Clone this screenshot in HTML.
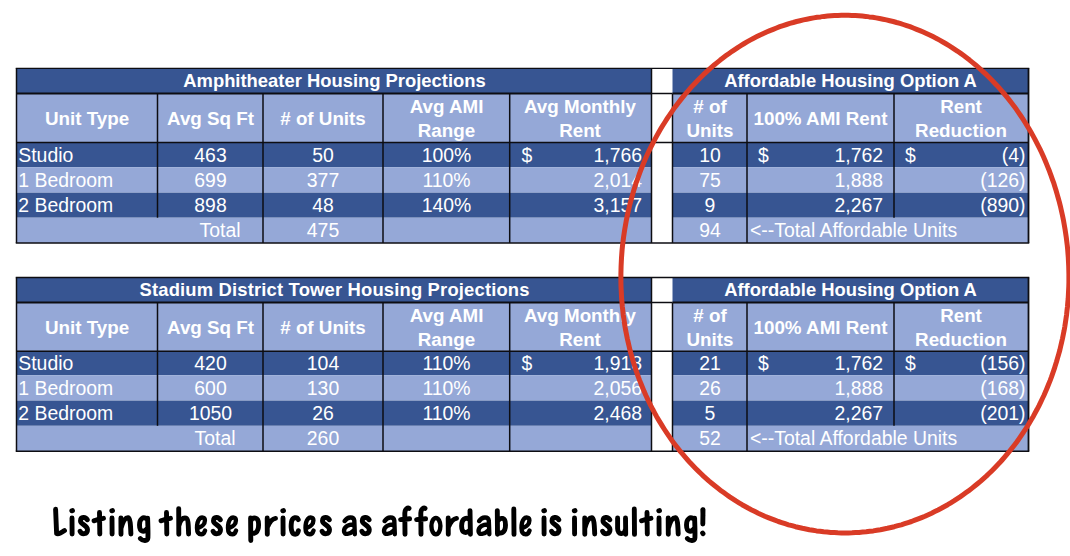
<!DOCTYPE html>
<html><head><meta charset="utf-8"><style>
html,body{margin:0;padding:0;background:#fff;width:1070px;height:556px;overflow:hidden}
svg{display:block}
text{font-family:"Liberation Sans",sans-serif;fill:#fff}
</style></head><body>
<svg width="1070" height="556" viewBox="0 0 1070 556">
<rect x="16.5" y="68.3" width="1012.0" height="25.200000000000003" fill="#375592"/>
<rect x="16.5" y="93.5" width="1012.0" height="48.69999999999999" fill="#95A8D7"/>
<rect x="16.5" y="142.2" width="1012.0" height="25.0" fill="#375592"/>
<rect x="16.5" y="167.2" width="1012.0" height="25.5" fill="#95A8D7"/>
<rect x="16.5" y="192.7" width="1012.0" height="25.0" fill="#375592"/>
<rect x="16.5" y="217.7" width="1012.0" height="25.19999999999999" fill="#95A8D7"/>
<rect x="651.5" y="68.3" width="21.0" height="174.59999999999997" fill="#fff"/>
<line x1="15.75" y1="68.3" x2="1029.25" y2="68.3" stroke="#0d0d12" stroke-width="1.3"/>
<line x1="16.5" y1="93.5" x2="651.5" y2="93.5" stroke="#0d0d12" stroke-width="2"/>
<line x1="672.5" y1="93.5" x2="1028.5" y2="93.5" stroke="#0d0d12" stroke-width="2"/>
<line x1="651.5" y1="93.5" x2="672.5" y2="93.5" stroke="#0d0d12" stroke-width="1.5"/>
<line x1="16.5" y1="142.6" x2="1028.5" y2="142.6" stroke="#0d0d12" stroke-width="1.5"/>
<line x1="15.75" y1="242.89999999999998" x2="1029.25" y2="242.89999999999998" stroke="#0d0d12" stroke-width="1.5"/>
<line x1="16.5" y1="68.3" x2="16.5" y2="242.89999999999998" stroke="#0d0d12" stroke-width="1.5"/>
<line x1="1028.5" y1="68.3" x2="1028.5" y2="242.89999999999998" stroke="#0d0d12" stroke-width="1.8"/>
<line x1="651.5" y1="68.3" x2="651.5" y2="242.89999999999998" stroke="#0d0d12" stroke-width="1.5"/>
<line x1="672.5" y1="93.5" x2="672.5" y2="242.89999999999998" stroke="#0d0d12" stroke-width="1.5"/>
<line x1="157.5" y1="93.5" x2="157.5" y2="217.7" stroke="#0d0d12" stroke-width="1.5"/>
<line x1="263" y1="93.5" x2="263" y2="242.89999999999998" stroke="#0d0d12" stroke-width="1.5"/>
<line x1="383" y1="93.5" x2="383" y2="242.89999999999998" stroke="#0d0d12" stroke-width="1.5"/>
<line x1="509.7" y1="93.5" x2="509.7" y2="242.89999999999998" stroke="#0d0d12" stroke-width="1.5"/>
<line x1="747" y1="93.5" x2="747" y2="242.89999999999998" stroke="#0d0d12" stroke-width="1.5"/>
<line x1="894" y1="93.5" x2="894" y2="217.7" stroke="#0d0d12" stroke-width="1.5"/>
<text x="334.5" y="87.19999999999999" text-anchor="middle" font-weight="bold" font-size="18.4">Amphitheater Housing Projections</text>
<text x="850.5" y="87.19999999999999" text-anchor="middle" font-weight="bold" font-size="18.4">Affordable Housing Option A</text>
<text x="87" y="125.19999999999999" text-anchor="middle" font-weight="bold" font-size="18.8">Unit Type</text>
<text x="210.5" y="125.19999999999999" text-anchor="middle" font-weight="bold" font-size="18.8">Avg Sq Ft</text>
<text x="323" y="125.19999999999999" text-anchor="middle" font-weight="bold" font-size="18.8"># of Units</text>
<text x="446.5" y="113.19999999999999" text-anchor="middle" font-weight="bold" font-size="18.8">Avg AMI</text>
<text x="446.5" y="137.2" text-anchor="middle" font-weight="bold" font-size="18.8">Range</text>
<text x="580" y="113.19999999999999" text-anchor="middle" font-weight="bold" font-size="18.8">Avg Monthly</text>
<text x="580" y="137.2" text-anchor="middle" font-weight="bold" font-size="18.8">Rent</text>
<text x="710" y="113.19999999999999" text-anchor="middle" font-weight="bold" font-size="18.8"># of</text>
<text x="710" y="137.2" text-anchor="middle" font-weight="bold" font-size="18.8">Units</text>
<text x="820.5" y="125.19999999999999" text-anchor="middle" font-weight="bold" font-size="18.8">100% AMI Rent</text>
<text x="961" y="113.19999999999999" text-anchor="middle" font-weight="bold" font-size="18.8">Rent</text>
<text x="961" y="137.2" text-anchor="middle" font-weight="bold" font-size="18.8">Reduction</text>
<text x="18.3" y="161.7" text-anchor="start" font-weight="normal" font-size="19.4">Studio</text>
<text x="210.5" y="161.7" text-anchor="middle" font-weight="normal" font-size="19.4">463</text>
<text x="323" y="161.7" text-anchor="middle" font-weight="normal" font-size="19.4">50</text>
<text x="446.5" y="161.7" text-anchor="middle" font-weight="normal" font-size="19.4">100%</text>
<text x="521.5" y="161.7" text-anchor="start" font-weight="normal" font-size="19.4">$</text>
<text x="642" y="161.7" text-anchor="end" font-weight="normal" font-size="19.4">1,766</text>
<text x="18.3" y="186.7" text-anchor="start" font-weight="normal" font-size="19.4">1 Bedroom</text>
<text x="210.5" y="186.7" text-anchor="middle" font-weight="normal" font-size="19.4">699</text>
<text x="323" y="186.7" text-anchor="middle" font-weight="normal" font-size="19.4">377</text>
<text x="446.5" y="186.7" text-anchor="middle" font-weight="normal" font-size="19.4">110%</text>
<text x="642" y="186.7" text-anchor="end" font-weight="normal" font-size="19.4">2,014</text>
<text x="18.3" y="212.2" text-anchor="start" font-weight="normal" font-size="19.4">2 Bedroom</text>
<text x="210.5" y="212.2" text-anchor="middle" font-weight="normal" font-size="19.4">898</text>
<text x="323" y="212.2" text-anchor="middle" font-weight="normal" font-size="19.4">48</text>
<text x="446.5" y="212.2" text-anchor="middle" font-weight="normal" font-size="19.4">140%</text>
<text x="642" y="212.2" text-anchor="end" font-weight="normal" font-size="19.4">3,157</text>
<text x="710" y="161.7" text-anchor="middle" font-weight="normal" font-size="19.4">10</text>
<text x="758" y="161.7" text-anchor="start" font-weight="normal" font-size="19.4">$</text>
<text x="905" y="161.7" text-anchor="start" font-weight="normal" font-size="19.4">$</text>
<text x="883" y="161.7" text-anchor="end" font-weight="normal" font-size="19.4">1,762</text>
<text x="1025.5" y="161.7" text-anchor="end" font-weight="normal" font-size="19.4">(4)</text>
<text x="710" y="186.7" text-anchor="middle" font-weight="normal" font-size="19.4">75</text>
<text x="883" y="186.7" text-anchor="end" font-weight="normal" font-size="19.4">1,888</text>
<text x="1025.5" y="186.7" text-anchor="end" font-weight="normal" font-size="19.4">(126)</text>
<text x="710" y="212.2" text-anchor="middle" font-weight="normal" font-size="19.4">9</text>
<text x="883" y="212.2" text-anchor="end" font-weight="normal" font-size="19.4">2,267</text>
<text x="1025.5" y="212.2" text-anchor="end" font-weight="normal" font-size="19.4">(890)</text>
<text x="240.5" y="237.2" text-anchor="end" font-weight="normal" font-size="19.4">Total</text>
<text x="323" y="237.2" text-anchor="middle" font-weight="normal" font-size="19.4">475</text>
<text x="710" y="237.2" text-anchor="middle" font-weight="normal" font-size="19.4">94</text>
<text x="750" y="237.2" text-anchor="start" font-weight="normal" font-size="19.4">&lt;--Total Affordable Units</text>
<rect x="16.5" y="277.5" width="1012.0" height="25.0" fill="#375592"/>
<rect x="16.5" y="302.5" width="1012.0" height="48.30000000000001" fill="#95A8D7"/>
<rect x="16.5" y="350.8" width="1012.0" height="24.399999999999977" fill="#375592"/>
<rect x="16.5" y="375.2" width="1012.0" height="25.400000000000034" fill="#95A8D7"/>
<rect x="16.5" y="400.6" width="1012.0" height="25.19999999999999" fill="#375592"/>
<rect x="16.5" y="425.8" width="1012.0" height="25.5" fill="#95A8D7"/>
<rect x="651.5" y="277.5" width="21.0" height="173.8" fill="#fff"/>
<line x1="15.75" y1="277.5" x2="1029.25" y2="277.5" stroke="#0d0d12" stroke-width="1.3"/>
<line x1="16.5" y1="302.5" x2="651.5" y2="302.5" stroke="#0d0d12" stroke-width="2"/>
<line x1="672.5" y1="302.5" x2="1028.5" y2="302.5" stroke="#0d0d12" stroke-width="2"/>
<line x1="651.5" y1="302.5" x2="672.5" y2="302.5" stroke="#0d0d12" stroke-width="1.5"/>
<line x1="16.5" y1="351.2" x2="1028.5" y2="351.2" stroke="#0d0d12" stroke-width="1.5"/>
<line x1="15.75" y1="451.3" x2="1029.25" y2="451.3" stroke="#0d0d12" stroke-width="1.5"/>
<line x1="16.5" y1="277.5" x2="16.5" y2="451.3" stroke="#0d0d12" stroke-width="1.5"/>
<line x1="1028.5" y1="277.5" x2="1028.5" y2="451.3" stroke="#0d0d12" stroke-width="1.8"/>
<line x1="651.5" y1="277.5" x2="651.5" y2="451.3" stroke="#0d0d12" stroke-width="1.5"/>
<line x1="672.5" y1="302.5" x2="672.5" y2="451.3" stroke="#0d0d12" stroke-width="1.5"/>
<line x1="157.5" y1="302.5" x2="157.5" y2="425.8" stroke="#0d0d12" stroke-width="1.5"/>
<line x1="263" y1="302.5" x2="263" y2="451.3" stroke="#0d0d12" stroke-width="1.5"/>
<line x1="383" y1="302.5" x2="383" y2="451.3" stroke="#0d0d12" stroke-width="1.5"/>
<line x1="509.7" y1="302.5" x2="509.7" y2="451.3" stroke="#0d0d12" stroke-width="1.5"/>
<line x1="747" y1="302.5" x2="747" y2="451.3" stroke="#0d0d12" stroke-width="1.5"/>
<line x1="894" y1="302.5" x2="894" y2="425.8" stroke="#0d0d12" stroke-width="1.5"/>
<text x="334.5" y="296.4" text-anchor="middle" font-weight="bold" font-size="18.4" textLength="390" lengthAdjust="spacing">Stadium District Tower Housing Projections</text>
<text x="850.5" y="296.4" text-anchor="middle" font-weight="bold" font-size="18.4">Affordable Housing Option A</text>
<text x="87" y="333.8" text-anchor="middle" font-weight="bold" font-size="18.8">Unit Type</text>
<text x="210.5" y="333.8" text-anchor="middle" font-weight="bold" font-size="18.8">Avg Sq Ft</text>
<text x="323" y="333.8" text-anchor="middle" font-weight="bold" font-size="18.8"># of Units</text>
<text x="446.5" y="321.8" text-anchor="middle" font-weight="bold" font-size="18.8">Avg AMI</text>
<text x="446.5" y="345.8" text-anchor="middle" font-weight="bold" font-size="18.8">Range</text>
<text x="580" y="321.8" text-anchor="middle" font-weight="bold" font-size="18.8">Avg Monthly</text>
<text x="580" y="345.8" text-anchor="middle" font-weight="bold" font-size="18.8">Rent</text>
<text x="710" y="321.8" text-anchor="middle" font-weight="bold" font-size="18.8"># of</text>
<text x="710" y="345.8" text-anchor="middle" font-weight="bold" font-size="18.8">Units</text>
<text x="820.5" y="333.8" text-anchor="middle" font-weight="bold" font-size="18.8">100% AMI Rent</text>
<text x="961" y="321.8" text-anchor="middle" font-weight="bold" font-size="18.8">Rent</text>
<text x="961" y="345.8" text-anchor="middle" font-weight="bold" font-size="18.8">Reduction</text>
<text x="18.3" y="370.3" text-anchor="start" font-weight="normal" font-size="19.4">Studio</text>
<text x="210.5" y="370.3" text-anchor="middle" font-weight="normal" font-size="19.4">420</text>
<text x="323" y="370.3" text-anchor="middle" font-weight="normal" font-size="19.4">104</text>
<text x="446.5" y="370.3" text-anchor="middle" font-weight="normal" font-size="19.4">110%</text>
<text x="521.5" y="370.3" text-anchor="start" font-weight="normal" font-size="19.4">$</text>
<text x="642" y="370.3" text-anchor="end" font-weight="normal" font-size="19.4">1,918</text>
<text x="18.3" y="394.7" text-anchor="start" font-weight="normal" font-size="19.4">1 Bedroom</text>
<text x="210.5" y="394.7" text-anchor="middle" font-weight="normal" font-size="19.4">600</text>
<text x="323" y="394.7" text-anchor="middle" font-weight="normal" font-size="19.4">130</text>
<text x="446.5" y="394.7" text-anchor="middle" font-weight="normal" font-size="19.4">110%</text>
<text x="642" y="394.7" text-anchor="end" font-weight="normal" font-size="19.4">2,056</text>
<text x="18.3" y="420.1" text-anchor="start" font-weight="normal" font-size="19.4">2 Bedroom</text>
<text x="210.5" y="420.1" text-anchor="middle" font-weight="normal" font-size="19.4">1050</text>
<text x="323" y="420.1" text-anchor="middle" font-weight="normal" font-size="19.4">26</text>
<text x="446.5" y="420.1" text-anchor="middle" font-weight="normal" font-size="19.4">110%</text>
<text x="642" y="420.1" text-anchor="end" font-weight="normal" font-size="19.4">2,468</text>
<text x="710" y="370.3" text-anchor="middle" font-weight="normal" font-size="19.4">21</text>
<text x="758" y="370.3" text-anchor="start" font-weight="normal" font-size="19.4">$</text>
<text x="905" y="370.3" text-anchor="start" font-weight="normal" font-size="19.4">$</text>
<text x="883" y="370.3" text-anchor="end" font-weight="normal" font-size="19.4">1,762</text>
<text x="1025.5" y="370.3" text-anchor="end" font-weight="normal" font-size="19.4">(156)</text>
<text x="710" y="394.7" text-anchor="middle" font-weight="normal" font-size="19.4">26</text>
<text x="883" y="394.7" text-anchor="end" font-weight="normal" font-size="19.4">1,888</text>
<text x="1025.5" y="394.7" text-anchor="end" font-weight="normal" font-size="19.4">(168)</text>
<text x="710" y="420.1" text-anchor="middle" font-weight="normal" font-size="19.4">5</text>
<text x="883" y="420.1" text-anchor="end" font-weight="normal" font-size="19.4">2,267</text>
<text x="1025.5" y="420.1" text-anchor="end" font-weight="normal" font-size="19.4">(201)</text>
<text x="235.5" y="445.3" text-anchor="end" font-weight="normal" font-size="19.4">Total</text>
<text x="323" y="445.3" text-anchor="middle" font-weight="normal" font-size="19.4">260</text>
<text x="710" y="445.3" text-anchor="middle" font-weight="normal" font-size="19.4">52</text>
<text x="750" y="445.3" text-anchor="start" font-weight="normal" font-size="19.4">&lt;--Total Affordable Units</text>
<path d="M 55.6,509.3 L 56.6,533.4 C 58,534.8 61.5,532.8 64.5,530.6 M 72.00,518 L 72.10,534 M 71.80,510.8 L 72.50,510.6 M 87.30,519.8 C 85.50,516.6 80.70,516.6 80.50,520.8 C 80.30,524.5 87.50,524.8 87.50,529.8 C 87.50,534.5 81.70,535 80.10,531.2 M 99.50,512.5 L 99.80,534 M 94.10,520.8 C 96.50,519.6 99.50,519 103.50,518.3 M 112.00,518 L 112.10,534 M 111.80,510.8 L 112.50,510.6 M 120.90,518 L 121.00,534.2 M 121.00,528.5 C 122.70,522 125.20,517.5 128.20,517.8 C 130.40,518 130.60,527 130.90,534 M 147.60,518.2 C 147.90,526 148.10,534 147.90,538 C 147.70,541.3 143.00,541.3 140.40,538.6 M 147.50,519.5 C 143.00,515.8 139.50,519 139.50,525 C 139.50,532.6 144.50,532.6 147.70,528 M 166.50,512.5 L 166.80,534 M 161.10,520.8 C 163.50,519.6 166.50,519 170.50,518.3 M 178.70,508.6 L 178.80,534.2 M 178.80,526 C 180.00,520 183.00,517.5 186.00,518.2 C 188.50,519 188.30,527 188.60,534 M 220.30,519.8 C 218.50,516.6 213.70,516.6 213.50,520.8 C 213.30,524.5 220.50,524.8 220.50,529.8 C 220.50,534.5 214.70,535 213.10,531.2 M 250.60,518 L 250.80,540.6 M 250.80,520.8 C 252.80,517 258.60,516.3 258.60,524.5 C 258.60,532.6 254.30,534.6 251.00,532.4 M 267.20,518 L 267.30,534.2 M 267.70,526.5 C 269.50,522.5 272.50,518.8 275.50,518.4 M 283.00,518 L 283.10,534 M 282.80,510.8 L 283.50,510.6 M 298.30,519.6 C 297.10,516.8 292.50,516.8 291.50,521.8 C 290.70,527 291.10,534.2 295.10,534.2 C 297.10,534.2 298.10,532.5 298.40,530.6 M 329.30,519.8 C 327.50,516.6 322.70,516.6 322.50,520.8 C 322.30,524.5 329.50,524.8 329.50,529.8 C 329.50,534.5 323.70,535 322.10,531.2 M 369.10,519.8 C 367.30,516.6 362.50,516.6 362.30,520.8 C 362.10,524.5 369.30,524.8 369.30,529.8 C 369.30,534.5 363.50,535 361.90,531.2 M 405.00,534.3 L 404.80,513 C 405.00,508.3 408.00,507.6 409.00,508.3 M 400.60,519.6 C 404.00,519.3 407.00,519 409.60,518.8 M 421.00,534.3 L 420.80,513 C 421.00,508.3 424.00,507.6 425.00,508.3 M 416.60,519.6 C 420.00,519.3 423.00,519 425.60,518.8 M 448.20,518 L 448.30,534.2 M 448.70,526.5 C 450.50,522.5 453.50,518.8 456.50,518.4 M 470.00,510.6 L 470.40,534.2 M 470.00,519.8 C 465.00,516 461.60,520 461.60,526 C 461.60,533.2 466.20,534.2 470.20,530 M 497.30,510.6 L 497.50,534.2 M 497.50,521.5 C 500.50,517 505.50,516.8 505.50,525 C 505.50,533.2 500.50,534.2 497.70,532 M 513.80,509 L 514.00,534.4 M 544.00,518 L 544.10,534 M 543.80,510.8 L 544.50,510.6 M 558.80,519.8 C 557.00,516.6 552.20,516.6 552.00,520.8 C 551.80,524.5 559.00,524.8 559.00,529.8 C 559.00,534.5 553.20,535 551.60,531.2 M 574.50,518 L 574.60,534 M 574.30,510.8 L 575.00,510.6 M 584.70,518 L 584.80,534.2 M 584.80,528.5 C 586.50,522 589.00,517.5 592.00,517.8 C 594.20,518 594.40,527 594.70,534 M 609.80,519.8 C 608.00,516.6 603.20,516.6 603.00,520.8 C 602.80,524.5 610.00,524.8 610.00,529.8 C 610.00,534.5 604.20,535 602.60,531.2 M 617.60,518 L 617.60,528.5 C 617.60,535 624.50,535.5 625.50,529 M 625.50,518 L 625.70,534.2 M 634.30,509 L 634.50,534.4 M 647.00,512.5 L 647.30,534 M 641.60,520.8 C 644.00,519.6 647.00,519 651.00,518.3 M 659.00,518 L 659.10,534 M 658.80,510.8 L 659.50,510.6 M 668.20,518 L 668.30,534.2 M 668.30,528.5 C 670.00,522 672.50,517.5 675.50,517.8 C 677.70,518 677.90,527 678.20,534 M 694.60,518.2 C 694.90,526 695.10,534 694.90,538 C 694.70,541.3 690.00,541.3 687.40,538.6 M 694.50,519.5 C 690.00,515.8 686.50,519 686.50,525 C 686.50,532.6 691.50,532.6 694.70,528 M 703,509.6 L 702.8,524 M 702.8,509.6 L 703,516 M 702.6,533 L 703,533.6" fill="none" stroke="#000" stroke-width="4.9" stroke-linecap="round" stroke-linejoin="round"/><path d="M 198.80,527.8 C 202.10,526.6 204.90,523.6 204.90,520.4 C 204.90,517 201.10,516.9 199.40,518.9 C 197.40,521.2 197.00,524.8 197.00,528 C 197.00,533.3 199.30,534.3 201.30,534.3 C 203.10,534.3 204.40,532.6 205.00,530.6 M 229.80,527.8 C 233.10,526.6 235.90,523.6 235.90,520.4 C 235.90,517 232.10,516.9 230.40,518.9 C 228.40,521.2 228.00,524.8 228.00,528 C 228.00,533.3 230.30,534.3 232.30,534.3 C 234.10,534.3 235.40,532.6 236.00,530.6 M 307.30,527.8 C 310.60,526.6 313.40,523.6 313.40,520.4 C 313.40,517 309.60,516.9 307.90,518.9 C 305.90,521.2 305.50,524.8 305.50,528 C 305.50,533.3 307.80,534.3 309.80,534.3 C 311.60,534.3 312.90,532.6 313.50,530.6 M 344.70,521 C 347.50,516.4 353.70,516.4 354.30,520.5 L 354.80,534.2 M 354.30,524.5 C 349.00,524 344.00,526.5 344.00,531 C 344.00,535.5 350.00,534.5 354.30,530 M 384.70,521 C 387.50,516.4 393.70,516.4 394.30,520.5 L 394.80,534.2 M 394.30,524.5 C 389.00,524 384.00,526.5 384.00,531 C 384.00,535.5 390.00,534.5 394.30,530 M 435.90,518 A 4.5 8.1 0 1 0 435.90,534.2 A 4.5 8.1 0 1 0 435.90,518 Z M 479.20,521 C 482.00,516.4 488.20,516.4 488.80,520.5 L 489.30,534.2 M 488.80,524.5 C 483.50,524 478.50,526.5 478.50,531 C 478.50,535.5 484.50,534.5 488.80,530 M 523.30,527.8 C 526.60,526.6 529.40,523.6 529.40,520.4 C 529.40,517 525.60,516.9 523.90,518.9 C 521.90,521.2 521.50,524.8 521.50,528 C 521.50,533.3 523.80,534.3 525.80,534.3 C 527.60,534.3 528.90,532.6 529.50,530.6" fill="none" stroke="#000" stroke-width="4.4" stroke-linecap="round" stroke-linejoin="round"/>
<path d="M1068.9,274.1 L1068.9,278.2 L1068.9,282.2 L1068.8,286.3 L1068.6,290.4 L1068.4,294.4 L1068.2,298.5 L1067.8,302.5 L1067.5,306.5 L1067.0,310.6 L1066.6,314.6 L1066.0,318.6 L1065.4,322.6 L1064.8,326.6 L1064.1,330.6 L1063.3,334.5 L1062.5,338.5 L1061.6,342.4 L1060.7,346.3 L1059.8,350.2 L1058.7,354.1 L1057.6,357.9 L1056.5,361.8 L1055.3,365.6 L1054.1,369.4 L1052.8,373.1 L1051.5,376.9 L1050.1,380.6 L1048.6,384.3 L1047.1,388.0 L1045.6,391.6 L1044.0,395.2 L1042.3,398.8 L1040.6,402.3 L1038.9,405.8 L1037.1,409.3 L1035.2,412.8 L1033.4,416.2 L1031.4,419.6 L1029.4,422.9 L1027.4,426.2 L1025.3,429.5 L1023.2,432.7 L1021.0,435.9 L1018.8,439.1 L1016.6,442.2 L1014.3,445.2 L1011.9,448.3 L1009.5,451.3 L1007.1,454.2 L1004.6,457.1 L1002.1,460.0 L999.6,462.8 L997.0,465.5 L994.4,468.2 L991.7,470.9 L989.0,473.5 L986.3,476.1 L983.5,478.6 L980.7,481.1 L977.8,483.5 L975.0,485.8 L972.1,488.1 L969.1,490.4 L966.1,492.6 L963.1,494.8 L960.1,496.9 L957.0,498.9 L953.9,500.9 L950.8,502.8 L947.7,504.7 L944.5,506.5 L941.3,508.3 L938.1,510.0 L934.8,511.6 L931.6,513.2 L928.3,514.7 L925.0,516.2 L921.6,517.6 L918.3,518.9 L914.9,520.2 L911.5,521.5 L908.1,522.6 L904.7,523.7 L901.3,524.8 L897.8,525.7 L894.3,526.7 L890.9,527.5 L887.4,528.3 L883.9,529.0 L880.4,529.7 L876.8,530.3 L873.3,530.9 L869.8,531.3 L866.2,531.8 L862.7,532.1 L859.1,532.4 L855.6,532.6 L852.0,532.8 L848.5,532.9 L844.9,532.9 L841.3,532.9 L837.8,532.8 L834.2,532.6 L830.7,532.4 L827.1,532.1 L823.6,531.8 L820.0,531.3 L816.5,530.9 L813.0,530.3 L809.4,529.7 L805.9,529.0 L802.4,528.3 L798.9,527.5 L795.5,526.7 L792.0,525.7 L788.5,524.8 L785.1,523.7 L781.7,522.6 L778.3,521.5 L774.9,520.2 L771.5,518.9 L768.2,517.6 L764.8,516.2 L761.5,514.7 L758.2,513.2 L755.0,511.6 L751.7,510.0 L748.5,508.3 L745.3,506.5 L742.1,504.7 L739.0,502.8 L735.9,500.9 L732.8,498.9 L729.7,496.9 L726.7,494.8 L723.7,492.6 L720.7,490.4 L717.7,488.1 L714.8,485.8 L712.0,483.5 L709.1,481.1 L706.3,478.6 L703.5,476.1 L700.8,473.5 L698.1,470.9 L695.4,468.2 L692.8,465.5 L690.2,462.8 L687.7,460.0 L685.2,457.1 L682.7,454.2 L680.3,451.3 L677.9,448.3 L675.5,445.2 L673.2,442.2 L671.0,439.1 L668.8,435.9 L666.6,432.7 L664.5,429.5 L662.4,426.2 L660.4,422.9 L658.4,419.6 L656.4,416.2 L654.6,412.8 L652.7,409.3 L650.9,405.8 L649.2,402.3 L647.5,398.8 L645.8,395.2 L644.2,391.6 L642.7,388.0 L641.2,384.3 L639.7,380.6 L638.3,376.9 L637.0,373.1 L635.7,369.4 L634.5,365.6 L633.3,361.8 L632.2,357.9 L631.1,354.1 L630.0,350.2 L629.1,346.3 L628.2,342.4 L627.3,338.5 L626.5,334.5 L625.7,330.6 L625.0,326.6 L624.4,322.6 L623.8,318.6 L623.2,314.6 L622.8,310.6 L622.3,306.5 L622.0,302.5 L621.6,298.5 L621.4,294.4 L621.2,290.4 L621.0,286.3 L620.9,282.2 L620.9,278.2 L620.9,274.1 L621.0,270.0 L621.1,266.0 L621.3,261.9 L621.5,257.8 L621.8,253.8 L622.1,249.7 L622.5,245.7 L623.0,241.7 L623.5,237.6 L624.1,233.6 L624.7,229.6 L625.4,225.6 L626.1,221.6 L626.9,217.6 L627.7,213.7 L628.6,209.7 L629.5,205.8 L630.5,201.9 L631.6,198.0 L632.7,194.1 L633.8,190.3 L635.0,186.4 L636.2,182.6 L637.6,178.8 L638.9,175.1 L640.3,171.3 L641.8,167.6 L643.3,163.9 L644.8,160.2 L646.4,156.6 L648.0,153.0 L649.7,149.4 L651.5,145.9 L653.3,142.4 L655.1,138.9 L657.0,135.4 L658.9,132.0 L660.9,128.6 L662.9,125.3 L665.0,122.0 L667.1,118.7 L669.2,115.5 L671.4,112.3 L673.6,109.1 L675.9,106.0 L678.2,103.0 L680.6,99.9 L683.0,96.9 L685.4,94.0 L687.9,91.1 L690.4,88.2 L692.9,85.4 L695.5,82.7 L698.1,80.0 L700.8,77.3 L703.4,74.7 L706.2,72.1 L708.9,69.6 L711.7,67.1 L714.5,64.7 L717.4,62.4 L720.2,60.1 L723.2,57.8 L726.1,55.6 L729.1,53.4 L732.1,51.3 L735.1,49.3 L738.1,47.3 L741.2,45.4 L744.3,43.5 L747.4,41.7 L750.6,39.9 L753.7,38.2 L756.9,36.6 L760.1,35.0 L763.4,33.5 L766.6,32.0 L769.9,30.6 L773.2,29.3 L776.5,28.0 L779.8,26.7 L783.1,25.6 L786.5,24.5 L789.8,23.4 L793.2,22.5 L796.6,21.5 L800.0,20.7 L803.4,19.9 L806.8,19.2 L810.3,18.5 L813.7,17.9 L817.2,17.3 L820.6,16.9 L824.1,16.4 L827.5,16.1 L831.0,15.8 L834.5,15.6 L837.9,15.4 L841.4,15.3 L844.9,15.3 L848.4,15.3 L851.9,15.4 L855.3,15.6 L858.8,15.8 L862.3,16.1 L865.7,16.4 L869.2,16.9 L872.6,17.3 L876.1,17.9 L879.5,18.5 L883.0,19.2 L886.4,19.9 L889.8,20.7 L893.2,21.5 L896.6,22.5 L900.0,23.4 L903.3,24.5 L906.7,25.6 L910.0,26.7 L913.3,28.0 L916.6,29.3 L919.9,30.6 L923.2,32.0 L926.4,33.5 L929.7,35.0 L932.9,36.6 L936.1,38.2 L939.2,39.9 L942.4,41.7 L945.5,43.5 L948.6,45.4 L951.7,47.3 L954.7,49.3 L957.7,51.3 L960.7,53.4 L963.7,55.6 L966.6,57.8 L969.6,60.1 L972.4,62.4 L975.3,64.7 L978.1,67.1 L980.9,69.6 L983.6,72.1 L986.4,74.7 L989.0,77.3 L991.7,80.0 L994.3,82.7 L996.9,85.4 L999.4,88.2 L1001.9,91.1 L1004.4,94.0 L1006.8,96.9 L1009.2,99.9 L1011.6,103.0 L1013.9,106.0 L1016.2,109.1 L1018.4,112.3 L1020.6,115.5 L1022.7,118.7 L1024.8,122.0 L1026.9,125.3 L1028.9,128.6 L1030.9,132.0 L1032.8,135.4 L1034.7,138.9 L1036.5,142.4 L1038.3,145.9 L1040.1,149.4 L1041.8,153.0 L1043.4,156.6 L1045.0,160.2 L1046.5,163.9 L1048.0,167.6 L1049.5,171.3 L1050.9,175.1 L1052.2,178.8 L1053.6,182.6 L1054.8,186.4 L1056.0,190.3 L1057.1,194.1 L1058.2,198.0 L1059.3,201.9 L1060.3,205.8 L1061.2,209.7 L1062.1,213.7 L1062.9,217.6 L1063.7,221.6 L1064.4,225.6 L1065.1,229.6 L1065.7,233.6 L1066.3,237.6 L1066.8,241.7 L1067.3,245.7 L1067.7,249.7 L1068.0,253.8 L1068.3,257.8 L1068.5,261.9 L1068.7,266.0 L1068.8,270.0Z" fill="none" stroke="#D93B26" stroke-width="5" stroke-linejoin="round"/>
</svg>
</body></html>
